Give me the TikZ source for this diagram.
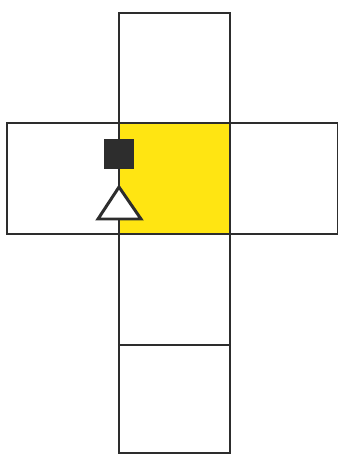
\documentclass[tikz,border=0pt]{standalone}
\usetikzlibrary{calc,positioning}
\definecolor{netyellow}{RGB}{255,229,18}
\definecolor{edgegray}{RGB}{45,45,45}

\begin{document}
\begin{tikzpicture}[
    x=0.02cm, y=-0.02cm,
    face/.style={draw=edgegray, line width=1.7pt},
    marker/.style={rectangle, fill=edgegray, inner sep=0pt, minimum size=0.6cm},
    tri/.style={draw=edgegray, fill=white, line width=1.7pt, line join=miter},
  ]
  \useasboundingbox (0,0) rectangle (338,454);

  % Corners of the net
  \coordinate (T0) at (119, 13);
  \coordinate (L0) at (7, 123);
  \coordinate (C0) at (119, 123);
  \coordinate (C1) at (230, 234);
  \coordinate (R1) at (338, 234);
  \coordinate (B0) at (119, 345);
  \coordinate (B1) at (230, 453);

  % Yellow face
  \fill[netyellow] (C0) rectangle (C1);

  % Faces
  \draw[face] (T0) rectangle (C0 -| C1);
  \draw[face] (L0) rectangle (C0 |- C1);
  \draw[face] (C0 -| C1) rectangle (R1);
  \draw[face] (C0) rectangle (C1);
  \draw[face] (C0 |- C1) rectangle (B0 -| C1);
  \draw[face] (B0) rectangle (B1);

  % Marker on the shared edge
  \node[marker] (stop) at (119, 153.5) {};
  \coordinate (apex) at (119, 187);
  \draw[face] (stop.south) -- (apex);
  \draw[tri] (apex) -- (98, 219) -- (141, 219) -- cycle;
\end{tikzpicture}
\end{document}
